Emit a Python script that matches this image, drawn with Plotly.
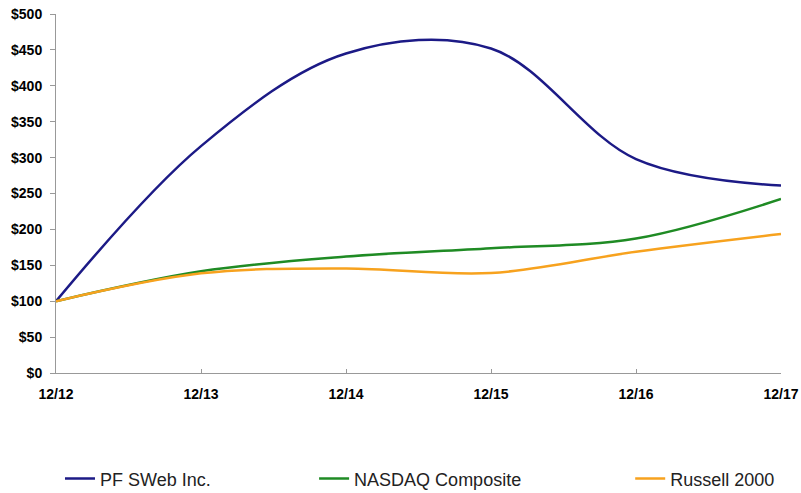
import plotly.graph_objects as go

periods = ["12/12", "12/13", "12/14", "12/15", "12/16", "12/17"]
pfsweb = [100, 316, 445, 452, 298, 261]
nasdaq = [100, 141.6, 162.1, 173.7, 187.2, 242.3]
russell = [100, 138.8, 145.6, 139.2, 168.9, 193.6]
y_ticks = [0, 50, 100, 150, 200, 250, 300, 350, 400, 450, 500]
y_tick_text = ["$" + str(v) for v in y_ticks]

series = [
    ("PF SWeb Inc.", pfsweb, "#1c1a86", "legend", 0.0055),
    ("NASDAQ Composite", nasdaq, "#1f8b24", "legend2", 0.356),
    ("Russell 2000", russell, "#f7a21e", "legend3", 0.792),
]

fig = go.Figure()
for name, vals, color, leg, _ in series:
    fig.add_trace(go.Scatter(
        x=list(range(len(periods))), y=vals, name=name, mode="lines",
        line=dict(color=color, width=2.5, shape="spline", smoothing=1),
        legend=leg, showlegend=True,
    ))

legend_common = dict(
    orientation="h", yanchor="middle", xanchor="left", y=-0.295,
    font=dict(family="Liberation Sans, Arial", size=18, color="#222"),
    bgcolor="rgba(0,0,0,0)", visible=True,
)
legends = {}
for name, vals, color, leg, xpos in series:
    legends[leg] = dict(legend_common, x=xpos)

tick_font = dict(family="Liberation Sans, Arial", size=14, color="black", weight="bold")

fig.update_layout(
    width=801, height=493,
    margin=dict(l=56, r=20, t=14, b=120, autoexpand=False),
    showlegend=True,
    paper_bgcolor="white", plot_bgcolor="white",
    font=dict(family="Liberation Sans, Arial", size=12, color="black"),
    xaxis=dict(
        range=[0, 5], tickmode="array", tickvals=list(range(len(periods))), ticktext=periods,
        showgrid=False, zeroline=False, showline=True, linecolor="#999", linewidth=1,
        ticks="inside", ticklen=4, tickcolor="#999", automargin=False,
        ticklabelstandoff=8, tickfont=tick_font,
    ),
    yaxis=dict(
        range=[0, 500], tickmode="array", tickvals=y_ticks, ticktext=y_tick_text,
        showgrid=False, zeroline=False, showline=True, linecolor="#999", linewidth=1,
        ticks="outside", ticklen=5, tickcolor="#999", automargin=False,
        ticklabelstandoff=5, tickfont=tick_font,
    ),
    **legends,
)

fig.write_html(
    "out.html",
    config={"displayModeBar": False},
    post_script="document.body.style.margin='0';document.body.style.overflow='hidden';",
)
